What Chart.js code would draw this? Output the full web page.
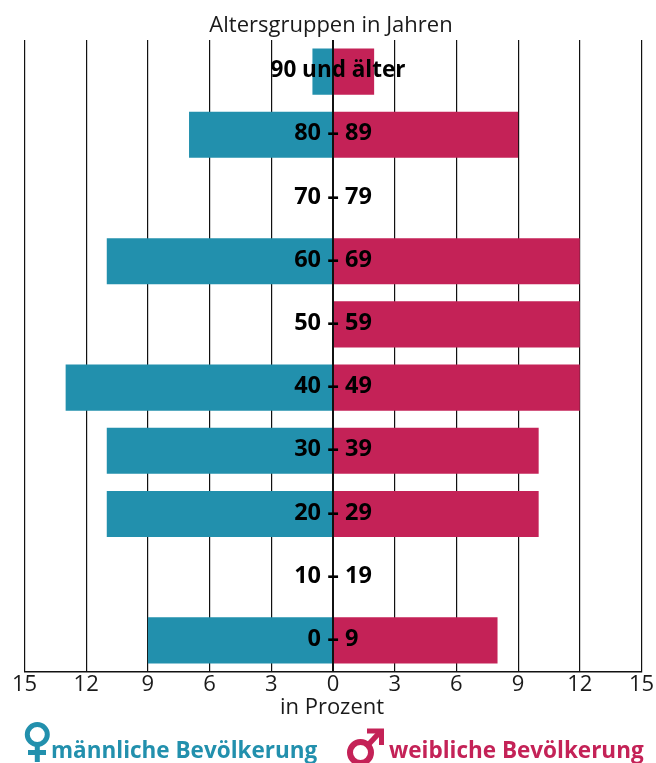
<!DOCTYPE html>
<html lang="de">
<head>
<meta charset="utf-8">
<title>Altersgruppen</title>
<script src="https://cdn.jsdelivr.net/npm/chart.js@4/dist/chart.umd.min.js"></script>
<style>
  html, body { margin: 0; padding: 0; background: #fff; }
  #wrap { position: relative; width: 656px; height: 763px; overflow: hidden; }
  canvas { display: block; }
  svg { position: absolute; left: 0; top: 0; pointer-events: none; }
</style>
</head>
<body>
<div id="wrap">
  <canvas id="chart" width="656" height="763"></canvas>
  <svg width="656" height="763" fill="none" stroke-width="5">
    <g stroke="#2290ad">
      <circle cx="37.3" cy="734.5" r="10"/>
      <path d="M37.3 745V762M28 752.5H46"/>
    </g>
    <g stroke="#c42257">
      <circle cx="360.5" cy="752.5" r="10.5" stroke-width="6"/>
      <path d="M368 745L381 731" stroke-width="5.5"/>
      <path d="M367 731H381.5V745" stroke-width="5"/>
    </g>
  </svg>
</div>
<script>
"use strict";

const AGE_GROUPS = ["90 und älter", "80 – 89", "70 – 79", "60 – 69", "50 – 59", "40 – 49", "30 – 39", "20 – 29", "10 – 19", "0 – 9"];
const MALE = [-1, -7, 0, -11, 0, -13, -11, -11, 0, -9];
const FEMALE = [2, 9, 0, 12, 12, 12, 10, 10, 0, 8];
const X_TICKS = [-15, -12, -9, -6, -3, 0, 3, 6, 9, 12, 15];

const TEAL = "#2290ad";
const RED = "#c42257";
const FONT = '"Open Sans", sans-serif';

// labels, centre line and captions go on top of the bars
const overlay = {
  id: "overlay",
  afterDatasetsDraw(chart) {
    const { ctx, chartArea, scales } = chart;
    const x0 = scales.x.getPixelForValue(0);
    ctx.save();
    ctx.strokeStyle = "#111";
    ctx.lineWidth = 2;
    ctx.beginPath();
    ctx.moveTo(x0, chartArea.top);
    ctx.lineTo(x0, chartArea.bottom);
    ctx.stroke();

    ctx.textAlign = "center";
    ctx.textBaseline = "middle";
    ctx.fillStyle = "#000";
    AGE_GROUPS.forEach((g, i) => {
      // the long top label sits a little right of the centre line
      ctx.font = (i === 0 ? "bold 22.5px " : "bold 23.5px ") + FONT;
      ctx.fillText(g, x0 + (i === 0 ? 5 : 0), scales.y.getPixelForTick(i) - 1);
    });

    ctx.fillStyle = "#1a1a1a";
    ctx.font = "22px " + FONT;
    ctx.fillText("Altersgruppen in Jahren", x0 - 2, 26);
    ctx.fillText("in Prozent", x0 - 1, 708);

    ctx.textAlign = "left";
    ctx.font = "bold 22.5px " + FONT;
    ctx.fillStyle = TEAL;
    ctx.fillText("männliche Bevölkerung", 51, 752);
    ctx.fillStyle = RED;
    ctx.fillText("weibliche Bevölkerung", 389, 752);
    ctx.restore();
  },
};

new Chart(document.getElementById("chart"), {
  type: "bar",
  data: {
    labels: AGE_GROUPS,
    datasets: [
      { label: "männliche Bevölkerung", data: MALE, backgroundColor: TEAL },
      { label: "weibliche Bevölkerung", data: FEMALE, backgroundColor: RED },
    ],
  },
  options: {
    responsive: false,
    animation: false,
    indexAxis: "y",
    barPercentage: 0.73,
    categoryPercentage: 1,
    layout: { padding: { left: 24.5, right: 14.5, top: 40, bottom: 0 } },
    plugins: { legend: { display: false }, tooltip: { enabled: false } },
    scales: {
      x: {
        stacked: true,
        min: -15,
        max: 15,
        afterBuildTicks: (s) => { s.ticks = X_TICKS.map((v) => ({ value: v })); },
        afterFit: (s) => { s.height = 91; },
        grid: { color: "#111", lineWidth: 1.2, drawTicks: false },
        border: { color: "#111", width: 1.5 },
        ticks: {
          color: "#1a1a1a",
          font: { family: FONT, size: 22 },
          padding: 0,
          maxRotation: 0,
          autoSkip: false,
          callback: (v) => Math.abs(v),
        },
      },
      y: { stacked: true, display: false },
    },
  },
  plugins: [overlay],
});
</script>
</body>
</html>
